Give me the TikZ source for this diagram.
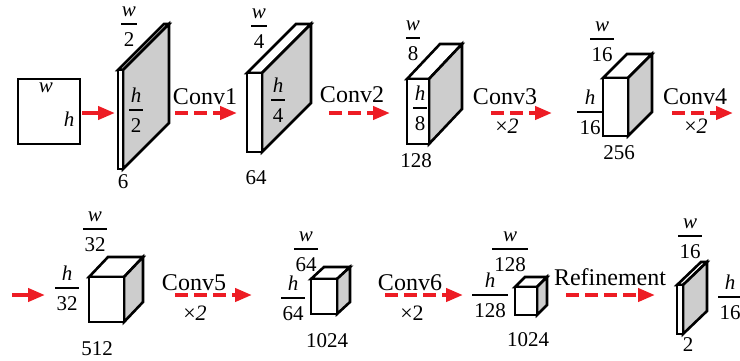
\documentclass[tikz,border=0pt]{standalone}
\usepackage{fontspec}
\setmainfont{Liberation Serif}
\usetikzlibrary{arrows.meta}
\definecolor{arrred}{RGB}{237,28,36}
\definecolor{sidegray}{RGB}{205,205,205}
\tikzset{
  edge/.style={line width=2.6pt, line join=miter},
  face/.style={edge, draw, fill=white, inner sep=0pt, outer sep=0pt},
  flow/.style={draw=arrred, line width=4pt, -{Triangle[length=17pt,width=13pt]}, arrred},
  flowdash/.style={flow, dash pattern=on 13pt off 6pt},
  conv/.style={font=\fontsize{24}{26}\selectfont, inner sep=0pt},
  times/.style={font=\fontsize{22}{24}\selectfont, inner sep=0pt},
  count/.style={font=\fontsize{21}{23}\selectfont, inner sep=0pt},
  fnum/.style={font=\fontsize{21}{23}\selectfont\itshape, inner sep=0pt, anchor=base},
  fden/.style={font=\fontsize{21}{23}\selectfont, inner sep=0pt, anchor=base},
  fbar/.style={line width=1.8pt},
}
% feature block: name, front face x0,y0,x1,y1, depth dx,dy
\newcommand\blk[7]{%
  \draw[edge, fill=white] (#2,#3) -- (#2+#6,#3-#7) -- (#4+#6,#3-#7) -- (#4,#3) -- cycle;
  \draw[edge, fill=sidegray] (#4,#3) -- (#4+#6,#3-#7) -- (#4+#6,#5-#7) -- (#4,#5) -- cycle;
  \node[face, minimum width={#4-#2}, minimum height={#5-#3}] (#1) at ({(#2+#4)/2},{(#3+#5)/2}) {};
}
% stacked fraction: name, x, bar y, numerator, denominator, bar half width
\newcommand\frc[6]{%
  \node[fnum] (#1n) at (#2,#3-7.5) {#4};
  \draw[fbar] (#2-#6,#3) -- (#2+#6,#3);
  \node[fden] (#1d) at (#2,#3+22) {#5};
}
\begin{document}
\begin{tikzpicture}[x=1pt, y=-1pt]
\useasboundingbox (0,0) rectangle (740,360);

% ---- top row ----
\node[face, minimum width=62, minimum height=65] (img) at (49,111.5) {};
\node[fnum, anchor=center] (imgw) at (46,88) {w};
\node[fnum, anchor=center] (imgh) at (69,119) {h};

\blk{b1}{118}{70}{123}{169}{46}{46}
\frc{b1w}{129}{24}{w}{2}{8}
\frc{b1h}{136}{110}{h}{2}{7}
\node[count] (c1) at (123,182) {6};

\blk{b2}{247}{73}{262}{152}{49}{49}
\frc{b2w}{259}{26}{w}{4}{8}
\frc{b2h}{278}{100}{h}{4}{7}
\node[count] (c2) at (256,178) {64};

\blk{b3}{407}{79}{429}{144}{33}{35}
\frc{b3w}{413}{38}{w}{8}{7}
\frc{b3h}{420}{108}{h}{8}{7}
\node[count] (c3) at (416,161) {128};

\blk{b4}{603}{78}{628}{136}{24}{24}
\frc{b4w}{602}{39}{w}{16}{12}
\frc{b4h}{590}{112}{h}{16}{13}
\node[count] (c4) at (619,153) {256};

\coordinate (a0s) at (82,113);  \coordinate (a0e) at (115,113);
\coordinate (a1s) at (175,113); \coordinate (a1e) at (237,113);
\coordinate (a2s) at (329,113); \coordinate (a2e) at (390,113);
\coordinate (a3s) at (491,113); \coordinate (a3e) at (552,113);
\coordinate (a4s) at (672,113); \coordinate (a4e) at (733,113);
\draw[flow] (a0s) -- (a0e);
\draw[flowdash] (a1s) -- (a1e);
\draw[flowdash] (a2s) -- (a2e);
\draw[flowdash] (a3s) -- (a3e);
\draw[flowdash] (a4s) -- (a4e);
\node[conv] (l1) at (205,97) {Conv1};
\node[conv] (l2) at (352,95) {Conv2};
\node[conv] (l3) at (505,97) {Conv3};
\node[times] (t3) at (507,126) {×\textit{2}};
\node[conv] (l4) at (695,97) {Conv4};
\node[times] (t4) at (696,126) {×\textit{2}};

% ---- bottom row ----
\blk{b5}{89}{277}{124}{322}{19}{20}
\frc{b5w}{95}{229}{w}{32}{12}
\frc{b5h}{67}{288}{h}{32}{12}
\node[count] (c5) at (97,349) {512};

\blk{b6}{311}{279}{337}{314}{13}{12}
\frc{b6w}{306}{249}{w}{64}{12}
\frc{b6h}{293}{298}{h}{64}{12}
\node[count] (c6) at (327,341) {1024};

\blk{b7}{515}{287}{537}{315}{10}{10}
\frc{b7w}{510}{249}{w}{128}{18}
\frc{b7h}{490}{295}{h}{128}{18}
\node[count] (c7) at (528,340) {1024};

\blk{b8}{677}{285}{683}{334}{24}{23}
\frc{b8w}{690}{236}{w}{16}{12}
\frc{b8h}{730}{297}{h}{16}{12}
\node[count] (c8) at (688,345) {2};

\coordinate (a5s) at (12,295);  \coordinate (a5e) at (45,295);
\coordinate (a6s) at (175,295); \coordinate (a6e) at (252,295);
\coordinate (a7s) at (385,295); \coordinate (a7e) at (463,295);
\coordinate (a8s) at (566,295); \coordinate (a8e) at (655,295);
\draw[flow] (a5s) -- (a5e);
\node[conv] (l5) at (194,283) {Conv5};
\node[conv] (l6) at (410,283) {Conv6};
\node[conv] (l8) at (610,277) {Refinement};
\draw[flowdash] (a6s) -- (a6e);
\draw[flowdash] (a7s) -- (a7e);
\draw[flowdash] (a8s) -- (a8e);
\node[times] (t5) at (195,313) {×\textit{2}};
\node[times] (t6) at (412,313) {×2};
\end{tikzpicture}
\end{document}
